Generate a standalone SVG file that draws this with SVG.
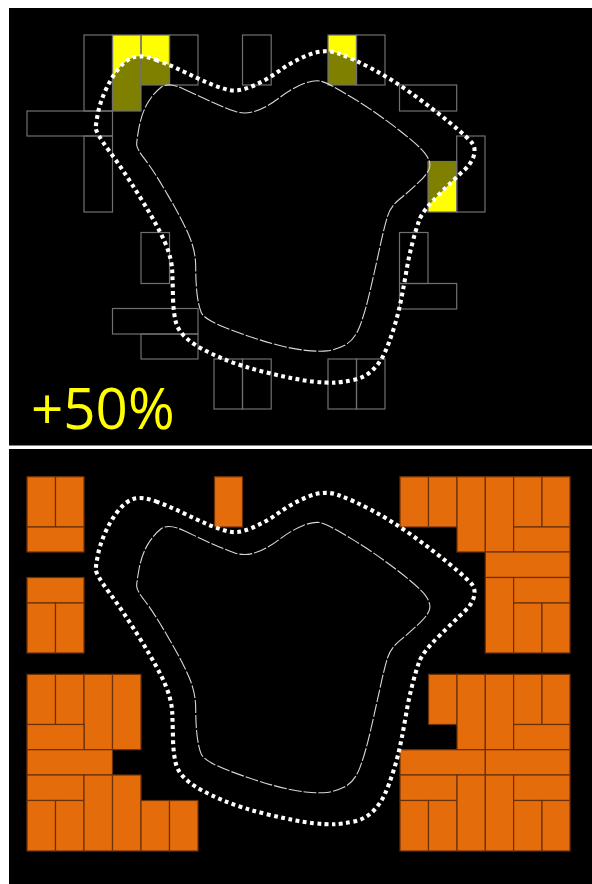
<svg xmlns="http://www.w3.org/2000/svg" width="592" height="884" viewBox="0 0 592 884">
<style>
.o{fill:none;stroke:#707070;stroke-width:1.2}
.y{fill:#ff0;stroke:none}
.k{fill:#808000;stroke:none}
.b{fill:#e46c0a;stroke:#6a3008;stroke-width:1.2}
.dot{fill:none;stroke:#fff;stroke-width:4.1;stroke-dasharray:3.8 3.5}
.dash{fill:none;stroke:#d8d8d8;stroke-width:1.1;stroke-dasharray:13 2}
</style>
<defs>
<path id="outer" d="M155.85 59.75Q170 65 183.35 71.5Q196.7 78 206.7 82.35Q216.7 86.7 227.1 89.6Q237.5 92.5 252.1 86.25Q266.7 80 279.35 70.85Q292 61.7 308.05 55.05Q324.1 48.4 338.05 53.35Q352 58.3 371.15 68.3Q390.3 78.3 411.15 93.15Q432 108 450.15 123Q468.3 138 472.1 143Q475.9 148 473.8 155.65Q471.7 163.3 463.5 170.8Q455.3 178.3 439 194.5Q422.7 210.7 419.35 219.85Q416 229 412.35 243.15Q408.7 257.3 406.2 272Q403.7 286.7 400.85 300.85Q398 315 393.65 328.85Q389.3 342.7 384.65 352.85Q380 363 372.25 370.4Q364.5 377.8 353.25 380.05Q342 382.3 334.5 382.65Q327 383 312.5 381.5Q298 380 269.85 373.35Q241.7 366.7 220.85 357.85Q200 349 189.15 340.5Q178.3 332 175.8 321.85Q173.3 311.7 173 297.5Q172.7 283.3 172.2 270.8Q171.7 258.3 165 242.5Q158.3 226.7 140.8 198.35Q123.3 170 109.35 151.15Q95.4 132.3 95.75 127.35Q96.1 122.4 98.05 112.7Q100 103 105 91.5Q110 80 117.4 70.15Q124.8 60.3 133.25 57.4Q141.7 54.5 155.85 59.75Z"/>
<path id="inner" d="M184.15 89.15Q200 96.7 212.5 102.35Q225 108 234.9 111.35Q244.8 114.7 255.75 111Q266.7 107.3 279.35 97.8Q292 88.3 303.25 83.85Q314.5 79.4 321.6 81.35Q328.7 83.3 352 97.5Q375.3 111.7 396.95 128.45Q418.6 145.2 424.6 152.8Q430.6 160.4 429.8 166.55Q429 172.7 418.85 182.2Q408.7 191.7 399.75 199Q390.8 206.3 387.75 215.65Q384.7 225 380 246.65Q375.3 268.3 370.3 290Q365.3 311.7 359.9 326Q354.5 340.3 344.8 345.15Q335.1 350 326.9 350.85Q318.7 351.7 305.35 350.35Q292 349 272.65 343.65Q253.3 338.3 228.65 329Q204 319.6 201.15 312.3Q198.3 305 197 293.35Q195.7 281.7 195.7 266.7Q195.7 251.7 189.5 236.7Q183.3 221.7 168.3 195.85Q153.3 170 144.95 159.4Q136.6 148.8 136.65 144.4Q136.7 140 139.2 126.65Q141.7 113.3 147.5 103.3Q153.3 93.3 160.8 87.45Q168.3 81.6 184.15 89.15Z"/>
<clipPath id="in"><use href="#outer"/></clipPath>
</defs>
<rect width="592" height="884" fill="#fff"/>
<g id="panel-top">
<rect x="9" y="8" width="583" height="437.5" fill="#000"/>
<g id="highlight">
<path class="y" d="M112.5 35H141V111H112.5Z"/>
<path class="y" d="M141 35H169.5V85H141Z"/>
<path class="y" d="M328 35H356.5V85H328Z"/>
<path class="y" d="M428 161.5H456.7V212H428Z"/>
<g clip-path="url(#in)">
<rect class="k" x="112.5" y="35" width="28.5" height="76"/>
<rect class="k" x="141" y="35" width="28.5" height="50"/>
<rect class="k" x="328" y="35" width="28.5" height="50"/>
<rect class="k" x="428" y="161.5" width="28.7" height="50.5"/>
</g>
</g>
<g id="outlines">
<rect class="o" x="84" y="35" width="28.5" height="76"/>
<rect class="o" x="112.5" y="35" width="28.5" height="76"/>
<rect class="o" x="141" y="35" width="28.5" height="50"/>
<rect class="o" x="169.5" y="35" width="28.5" height="50"/>
<rect class="o" x="27" y="111" width="85.5" height="25"/>
<rect class="o" x="84" y="136" width="28.5" height="76"/>
<rect class="o" x="242.5" y="35" width="28.7" height="50"/>
<rect class="o" x="328" y="35" width="28.5" height="50"/>
<rect class="o" x="356.5" y="35" width="28.5" height="50"/>
<rect class="o" x="399.5" y="85" width="57.2" height="26"/>
<rect class="o" x="456.7" y="136" width="28.3" height="76"/>
<rect class="o" x="428" y="161.5" width="28.7" height="50.5"/>
<rect class="o" x="141" y="232.5" width="28.5" height="51"/>
<rect class="o" x="112.5" y="308.5" width="85.5" height="25.5"/>
<rect class="o" x="141" y="334" width="57" height="25"/>
<rect class="o" x="214" y="359" width="28.5" height="50"/>
<rect class="o" x="242.5" y="359" width="28.7" height="50"/>
<rect class="o" x="328" y="359" width="28.5" height="50"/>
<rect class="o" x="356.5" y="359" width="28.5" height="50"/>
<rect class="o" x="399.5" y="232.5" width="28.5" height="51"/>
<rect class="o" x="399.5" y="283.5" width="57.2" height="25.5"/>
</g>
<use href="#inner" class="dash"/>
<use href="#outer" class="dot"/>
<text x="31" y="429" font-family="'Open Sans','Noto Sans',sans-serif" font-size="56.5" fill="#ff0">+50%</text>
</g>
<g id="panel-bottom">
<rect x="9" y="449" width="583" height="435" fill="#000"/>
<g id="bricks">
<rect class="b" x="27" y="476.7" width="28.5" height="50.3"/>
<rect class="b" x="55.5" y="476.7" width="28.5" height="50.3"/>
<rect class="b" x="27" y="527" width="57" height="25"/>
<rect class="b" x="27" y="577.5" width="57" height="25.5"/>
<rect class="b" x="27" y="603" width="28.5" height="50"/>
<rect class="b" x="55.5" y="603" width="28.5" height="50"/>
<rect class="b" x="214.5" y="476.7" width="28" height="50.3"/>
<rect class="b" x="400" y="476.7" width="28.5" height="50.3"/>
<rect class="b" x="428.5" y="476.7" width="28.5" height="50.3"/>
<rect class="b" x="457" y="476.7" width="28.3" height="75.3"/>
<rect class="b" x="485.3" y="476.7" width="28.3" height="75.3"/>
<rect class="b" x="513.6" y="476.7" width="28.4" height="50.3"/>
<rect class="b" x="542" y="476.7" width="28" height="50.3"/>
<rect class="b" x="513.6" y="527" width="56.4" height="25"/>
<rect class="b" x="485.3" y="552" width="84.7" height="25.5"/>
<rect class="b" x="485.3" y="577.5" width="28.3" height="75.5"/>
<rect class="b" x="513.6" y="577.5" width="56.4" height="25.5"/>
<rect class="b" x="513.6" y="603" width="28.4" height="50"/>
<rect class="b" x="542" y="603" width="28" height="50"/>
<rect class="b" x="27" y="674.3" width="28.5" height="50.2"/>
<rect class="b" x="55.5" y="674.3" width="28.5" height="50.2"/>
<rect class="b" x="84" y="674.3" width="28.5" height="75.4"/>
<rect class="b" x="112.5" y="674.3" width="28.5" height="75.4"/>
<rect class="b" x="27" y="724.5" width="57" height="25.2"/>
<rect class="b" x="27" y="749.7" width="85.5" height="25.3"/>
<rect class="b" x="27" y="775" width="57" height="25.5"/>
<rect class="b" x="27" y="800.5" width="28.5" height="50.5"/>
<rect class="b" x="55.5" y="800.5" width="28.5" height="50.5"/>
<rect class="b" x="84" y="775" width="28.5" height="76"/>
<rect class="b" x="112.5" y="775" width="28.5" height="76"/>
<rect class="b" x="141" y="800.5" width="28.5" height="50.5"/>
<rect class="b" x="169.5" y="800.5" width="28.5" height="50.5"/>
<rect class="b" x="428.5" y="674.3" width="28.5" height="50.2"/>
<rect class="b" x="457" y="674.3" width="28.3" height="75.4"/>
<rect class="b" x="485.3" y="674.3" width="28.3" height="75.4"/>
<rect class="b" x="513.6" y="674.3" width="28.4" height="50.2"/>
<rect class="b" x="542" y="674.3" width="28" height="50.2"/>
<rect class="b" x="513.6" y="724.5" width="56.4" height="25.2"/>
<rect class="b" x="400" y="749.7" width="85.3" height="25.3"/>
<rect class="b" x="485.3" y="749.7" width="84.7" height="25.3"/>
<rect class="b" x="400" y="775" width="57" height="25.5"/>
<rect class="b" x="400" y="800.5" width="28.5" height="50.5"/>
<rect class="b" x="428.5" y="800.5" width="28.5" height="50.5"/>
<rect class="b" x="457" y="775" width="28.3" height="76"/>
<rect class="b" x="485.3" y="775" width="28.3" height="76"/>
<rect class="b" x="513.6" y="775" width="56.4" height="25.5"/>
<rect class="b" x="513.6" y="800.5" width="28.4" height="50.5"/>
<rect class="b" x="542" y="800.5" width="28" height="50.5"/>
</g>
<use href="#inner" class="dash" transform="translate(0 441.6)"/>
<use href="#outer" class="dot" transform="translate(0 441.6)"/>
</g>
</svg>
